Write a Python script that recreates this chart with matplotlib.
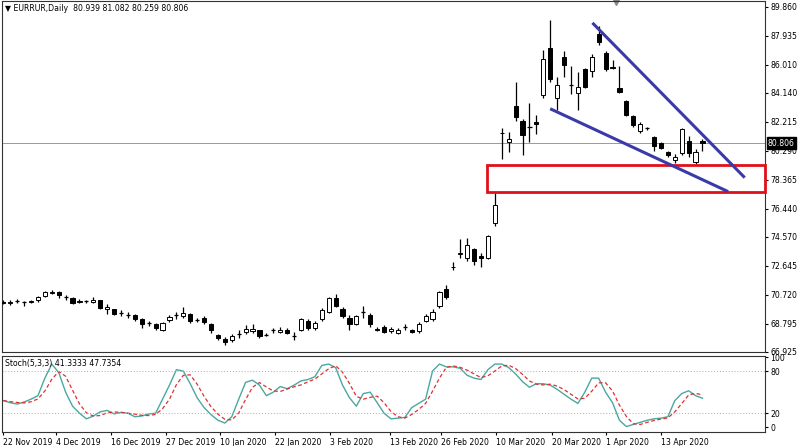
import matplotlib
matplotlib.use("Agg")
import matplotlib.pyplot as plt
import numpy as np
import pandas as pd

# daily OHLC, EURRUB
opens = [70.25, 70.18, 70.28, 70.22, 70.25, 70.35, 70.65, 70.85, 70.90, 70.55,
         70.50, 70.25, 70.28, 70.25, 70.35, 69.80, 69.75, 69.50, 69.40, 69.35,
         69.10, 68.85, 68.75, 68.35, 69.05, 69.35, 69.30, 69.45, 69.05, 69.20,
         68.80, 68.05, 67.80, 67.70, 68.10, 68.25, 68.30, 68.35, 68.05, 68.35,
         68.25, 68.40, 68.00, 68.40, 69.00, 68.50, 69.10, 69.60, 70.50, 69.80,
         69.20, 68.80, 69.60, 69.40, 68.45, 68.60, 68.30, 68.20, 68.55, 68.35,
         68.30, 69.00, 69.10, 69.95, 71.10, 72.55, 73.45, 73.20, 73.75, 73.30,
         73.20, 75.50, 81.45, 80.85, 83.30, 82.30, 81.90, 82.20, 84.00, 87.10,
         83.80, 86.50, 84.70, 84.15, 85.75, 85.60, 88.05, 86.80, 85.85, 84.50,
         83.60, 82.60, 81.60, 81.80, 81.20, 80.80, 80.20, 79.70, 80.17, 80.96,
         79.57, 80.939]
closes = [70.20, 70.24, 70.28, 70.20, 70.30, 70.55, 70.90, 70.92, 70.70, 70.52,
          70.20, 70.30, 70.28, 70.40, 69.85, 69.90, 69.45, 69.48, 69.38, 69.10,
          68.80, 68.83, 68.50, 68.85, 69.25, 69.35, 69.50, 69.00, 69.05, 68.90,
          68.35, 67.85, 67.60, 67.95, 68.10, 68.45, 68.45, 67.95, 68.05, 68.35,
          68.40, 68.20, 68.00, 69.10, 68.50, 68.85, 69.70, 70.50, 70.00, 69.30,
          68.75, 69.30, 69.60, 68.80, 68.40, 68.25, 68.45, 68.35, 68.55, 68.25,
          68.80, 69.30, 69.55, 70.90, 70.55, 72.60, 73.50, 74.00, 72.95, 73.20,
          74.60, 76.70, 81.50, 81.10, 82.56, 81.36, 81.90, 82.10, 86.40, 85.10,
          84.70, 86.00, 84.70, 84.55, 84.55, 86.50, 87.55, 85.70, 85.80, 84.20,
          82.70, 82.00, 82.10, 81.80, 80.60, 80.50, 80.00, 79.90, 81.76, 80.17,
          80.23, 80.806]
highs = [70.40, 70.35, 70.45, 70.30, 70.40, 70.65, 71.00, 71.05, 71.00, 70.70,
         70.60, 70.45, 70.40, 70.55, 70.40, 70.10, 69.80, 69.70, 69.55, 69.45,
         69.15, 68.95, 68.85, 68.90, 69.40, 69.55, 69.90, 69.50, 69.20, 69.30,
         68.85, 68.10, 67.90, 68.10, 68.35, 68.70, 68.75, 68.40, 68.15, 68.50,
         68.55, 68.50, 68.25, 69.20, 69.10, 69.00, 69.85, 70.60, 70.80, 69.90,
         69.40, 69.40, 70.00, 69.50, 68.55, 68.70, 68.55, 68.50, 68.80, 68.45,
         68.90, 69.45, 69.75, 71.00, 71.35, 72.90, 74.40, 74.50, 73.85, 73.50,
         74.70, 77.50, 81.83, 81.56, 84.90, 82.40, 83.50, 82.70, 87.00, 89.00,
         85.20, 86.90, 85.90, 85.50, 85.80, 86.70, 88.60, 86.90, 86.30, 85.90,
         83.70, 82.70, 82.20, 81.90, 81.30, 80.90, 80.30, 80.10, 81.80, 81.30,
         80.40, 81.082]
lows = [70.10, 70.05, 70.15, 69.95, 70.15, 70.25, 70.55, 70.75, 70.50, 70.40,
        70.10, 70.15, 70.15, 70.15, 69.80, 69.45, 69.40, 69.30, 69.15, 68.95,
        68.50, 68.65, 68.35, 68.30, 68.90, 69.10, 69.20, 68.85, 68.90, 68.75,
        68.20, 67.70, 67.40, 67.55, 67.85, 68.10, 68.20, 67.85, 67.95, 68.20,
        68.15, 68.10, 67.70, 68.30, 68.40, 68.40, 69.00, 69.50, 69.90, 69.20,
        68.40, 68.70, 69.20, 68.60, 68.30, 68.15, 68.20, 68.10, 68.35, 68.15,
        68.20, 68.90, 69.00, 69.85, 70.45, 72.40, 73.20, 73.00, 72.70, 72.60,
        73.10, 75.30, 79.77, 80.20, 82.30, 80.00, 80.90, 81.40, 83.80, 84.90,
        83.00, 85.20, 84.10, 83.00, 84.50, 85.20, 87.30, 85.60, 85.75, 84.15,
        82.60, 81.90, 81.50, 81.70, 80.30, 80.40, 79.90, 79.50, 80.00, 79.90,
        79.40, 80.259]

# stochastic %K (5,3,3); %D is its 3-bar average
stoch_k = [38, 35, 33, 36, 40, 45, 70, 90, 78, 50, 30, 20, 12, 16, 22, 24, 19, 21,
           20, 15, 16, 19, 20, 40, 60, 82, 80, 62, 42, 28, 18, 10, 6, 15, 40, 64,
           67, 60, 45, 50, 58, 55, 60, 66, 68, 72, 88, 90, 85, 60, 42, 30, 48, 50,
           35, 20, 12, 13, 14, 28, 34, 40, 80, 90, 86, 86, 84, 74, 70, 68, 82, 90,
           90, 85, 76, 65, 57, 62, 62, 60, 54, 47, 40, 34, 50, 70, 70, 50, 35, 10,
           1, 4, 7, 10, 12, 13, 15, 38, 48, 52, 45, 41.3333]
stoch_d = pd.Series(stoch_k).rolling(3, min_periods=1).mean()

date_ticks = [0, 7.6, 15.5, 23.5, 31.3, 39.3, 47.2, 55.8, 63.2, 71.2, 79.2, 87.0, 95.0]
date_labels = ["22 Nov 2019", "4 Dec 2019", "16 Dec 2019", "27 Dec 2019", "10 Jan 2020",
               "22 Jan 2020", "3 Feb 2020", "13 Feb 2020", "26 Feb 2020", "10 Mar 2020",
               "20 Mar 2020", "1 Apr 2020", "13 Apr 2020"]
price_ticks = [89.860, 87.935, 86.010, 84.140, 82.215, 80.290, 78.365, 76.440,
               74.570, 72.645, 70.720, 68.795, 66.925]

# drawn objects: zone and wedge lines (bar index, price)
zone = (69.9, 77.58, 79.37)
upper_line = [(85.1, 88.80), (107.1, 78.51)]
lower_line = [(79.0, 83.09), (104.7, 77.58)]

fig = plt.figure(figsize=(8, 4.46), dpi=100)
ax = fig.add_axes([0.002, 0.211, 0.954, 0.787])
ax2 = fig.add_axes([0.002, 0.031, 0.954, 0.170])
fs = 5.6

x = np.arange(len(opens))
xlim = (-0.25, 110)
for i in x:
    o, c, h, l = opens[i], closes[i], highs[i], lows[i]
    ax.vlines(i, l, h, color="black", lw=0.9, zorder=2)
    bot, top = min(o, c), max(o, c)
    face = "white" if c > o else "black"
    if top - bot < 0.04:
        ax.hlines(o, i - 0.3, i + 0.3, color="black", lw=0.9, zorder=3)
    else:
        ax.add_patch(plt.Rectangle((i - 0.3, bot), 0.6, top - bot, facecolor=face,
                                   edgecolor="black", lw=0.7, zorder=3))

last = closes[-1]
ax.axhline(last, color="#999999", lw=0.7, zorder=1)
ax.add_patch(plt.Rectangle((zone[0], zone[1]), xlim[1] - zone[0], zone[2] - zone[1],
                           fill=False, edgecolor="#e0101a", lw=2, zorder=4, clip_on=False))
for seg in (upper_line, lower_line):
    ax.plot([p[0] for p in seg], [p[1] for p in seg], color="#3a3aa8", lw=2.2,
            zorder=5, solid_capstyle="butt")

ax.set_xlim(*xlim)
ax.set_ylim(66.96, 90.26)
ax.yaxis.tick_right()
ax.set_yticks(price_ticks)
ax.set_yticklabels([f"{v:.3f}" for v in price_ticks], fontsize=fs)
ax.set_xticks([])
ax.tick_params(axis="y", length=2, pad=2)
ax.text(1.004, last, f"{last:.3f}", transform=ax.get_yaxis_transform(),
        fontsize=fs, color="white", va="center", ha="left",
        bbox=dict(boxstyle="square,pad=0.15", fc="black", ec="black"))
ax.text(0.004, 0.99, "\u25bc EURRUR,Daily  80.939 81.082 80.259 80.806", transform=ax.transAxes,
        fontsize=fs, va="top", ha="left")
ax.plot([88.5], [90.2], marker="v", color="#888888", ms=5, clip_on=False)

ax2.plot(x, stoch_k, color="#4aa8a0", lw=1.0)
ax2.plot(x, stoch_d, color="#e03030", lw=0.9, ls=(0, (3, 2)))
for lvl in (80, 20):
    ax2.axhline(lvl, color="#aaaaaa", lw=0.7, ls=(0, (1, 2)))
ax2.set_xlim(*xlim)
ax2.set_ylim(-7, 101)
ax2.yaxis.tick_right()
ax2.set_yticks([100, 80, 20, 0])
ax2.set_yticklabels(["100", "80", "20", "0"], fontsize=fs)
ax2.set_xticks(date_ticks)
ax2.set_xticklabels(date_labels, fontsize=fs, ha="left")
ax2.tick_params(axis="both", length=2, pad=2)
ax2.text(0.004, 0.96, "Stoch(5,3,3) 41.3333 47.7354", transform=ax2.transAxes,
         fontsize=fs, va="top", ha="left")

for a in (ax, ax2):
    for s in a.spines.values():
        s.set_color("#333333")
        s.set_linewidth(0.8)

fig.savefig("out.png", dpi=100)
